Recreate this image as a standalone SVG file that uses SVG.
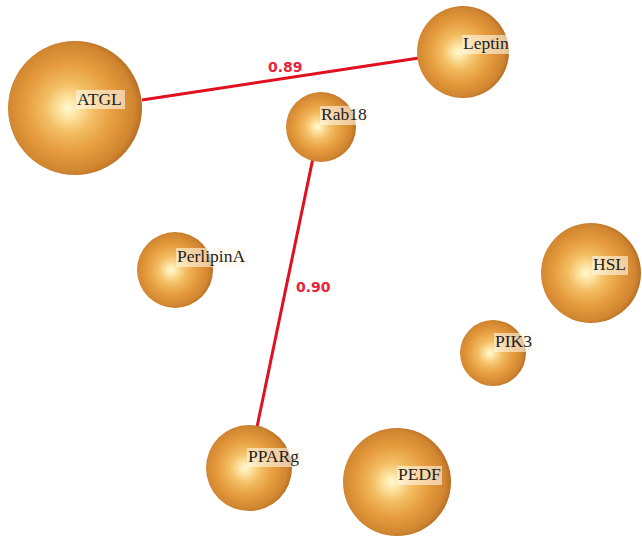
<svg xmlns="http://www.w3.org/2000/svg" width="642" height="543" viewBox="0 0 642 543">
<defs>
<radialGradient id="ball" cx="0.47" cy="0.5" r="0.53" fx="0.45" fy="0.5">
<stop offset="0" stop-color="#fffad2"/>
<stop offset="0.12" stop-color="#fde7a8"/>
<stop offset="0.35" stop-color="#f3bd62"/>
<stop offset="0.65" stop-color="#e49a3c"/>
<stop offset="0.9" stop-color="#d08530"/>
<stop offset="1" stop-color="#b86f24"/>
</radialGradient>
</defs>
<style>
.ball{fill:url(#ball)}
.lbl{font-family:"Liberation Serif","Times New Roman",serif;font-size:17.5px;fill:#1e1e1e}
.bg{fill:#fff8ea;fill-opacity:0.6}
.edge{stroke:#e0101e;stroke-width:3;fill:none}
.w{font-family:"DejaVu Sans",Verdana,sans-serif;font-weight:bold;font-size:14px;fill:#e8233a}
</style>
<rect width="642" height="543" fill="#ffffff"/>
<g id="connectors">
<line class="edge" x1="142" y1="100" x2="419" y2="58"/>
<line class="edge" x1="313" y1="158" x2="257" y2="427"/>
<text class="w" x="268" y="72">0.89</text>
<text class="w" x="296" y="292">0.90</text>
</g>
<g id="ATGL"><circle class="ball" cx="75" cy="108" r="67"/><rect class="bg" x="76" y="90" width="49" height="19"/><text class="lbl" x="77" y="105">ATGL</text></g>
<g id="Leptin"><circle class="ball" cx="463" cy="52" r="46"/><rect class="bg" x="462" y="35" width="48" height="19"/><text class="lbl" x="463" y="49">Leptin</text></g>
<g id="Rab18"><circle class="ball" cx="321" cy="127" r="35"/><rect class="bg" x="320" y="106" width="48" height="19"/><text class="lbl" x="321" y="120">Rab18</text></g>
<g id="PerlipinA"><circle class="ball" cx="175" cy="270" r="38"/><rect class="bg" x="176" y="248" width="70" height="19"/><text class="lbl" x="177" y="262">PerlipinA</text></g>
<g id="HSL"><circle class="ball" cx="591" cy="273" r="50"/><rect class="bg" x="592" y="256" width="36" height="19"/><text class="lbl" x="593" y="270">HSL</text></g>
<g id="PIK3"><circle class="ball" cx="493" cy="353" r="33"/><rect class="bg" x="494" y="333" width="39" height="19"/><text class="lbl" x="495" y="347">PIK3</text></g>
<g id="PPARg"><circle class="ball" cx="249" cy="468" r="43"/><rect class="bg" x="247" y="448" width="55" height="19"/><text class="lbl" x="248" y="462">PPARg</text></g>
<g id="PEDF"><circle class="ball" cx="397" cy="482" r="54"/><rect class="bg" x="397" y="466" width="45" height="19"/><text class="lbl" x="398" y="480">PEDF</text></g>
</svg>
